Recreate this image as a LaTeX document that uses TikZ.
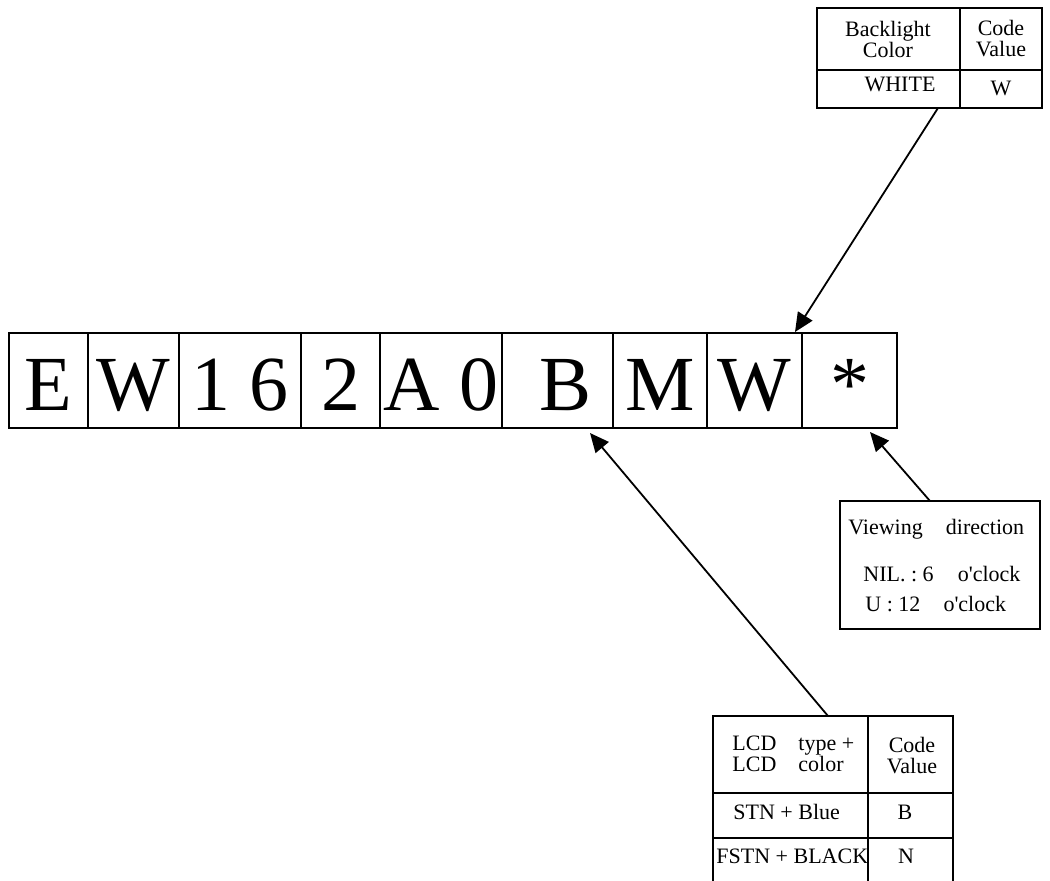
\documentclass[tikz,border=0pt]{standalone}
\usepackage{fontspec}
\setmainfont{Liberation Serif}
\usetikzlibrary{arrows.meta}

\begin{document}
\begin{tikzpicture}[x=0.5pt,y=-0.5pt,
	big/.style={inner sep=0pt,anchor=base,font=\fontsize{39}{39}\selectfont},
	txt/.style={inner sep=0pt,font=\fontsize{11}{10.5}\selectfont},
	frame/.style={line width=1pt},
	pointer/.style={line width=0.9pt,-{Triangle[length=9.5pt,width=8.5pt]}}]
	\useasboundingbox (0,0) rectangle (1050,880);
	\clip (0,0) rectangle (1050,880);
	
	%PART NUMBER
	\draw[frame] (9,333) rectangle (897,428);
	\foreach \x in {88,179,301,380,502,613,707,802}
	\draw[frame] (\x,333)--(\x,428);	%dividers
	%
	\foreach \t/\x/\n in {E/48.5/pnE,W/133.5/pnW,1 6/240/pnSix,2/340.5/pnTwo,A 0/441/pnAO,B/566/pnB,M/660/pnM,W/754.5/pnBl,*/849.5/pnStar}
	\node[big] (\n) at (\x,410) {\t};
	
	%BACKLIGHT TABLE
	\draw[frame] (817,8) rectangle (1042,108);
	\draw[frame] (960,8)--(960,108);	%column
	\draw[frame] (817,70)--(1042,70);	%row
	\node[txt,align=center,anchor=north] (blhead) at (888,21) {Backlight\\Color};
	\node[txt,align=center,anchor=north] (blcode) at (1001,20) {Code\\Value};
	\node[txt,anchor=base] (blwhite) at (900,91) {WHITE};
	\node[txt,anchor=base] (blw) at (1001,95) {W};
	
	%VIEWING DIRECTION BOX
	\draw[frame] (840,501) rectangle (1040,629);
	\node[txt,anchor=base west] (vdhead) at (848,534) {Viewing\hspace{1.05em}direction};
	\node[txt,anchor=base west] (vdsix) at (863,581) {NIL.\ :\ 6\hspace{1.1em}o\textquotesingle clock};
	\node[txt,anchor=base west] (vdtwelve) at (865,611) {U\ :\ 12\hspace{1.05em}o\textquotesingle clock};
	
	%LCD TABLE
	\draw[frame] (713,716) rectangle (953,884);
	\draw[frame] (868,716)--(868,884);	%column
	\foreach \y in {793,838}
	\draw[frame] (713,\y)--(953,\y);	%rows
	\node[txt,align=left,anchor=north west] (lcdhead) at (732,736) {LCD\quad type +\\LCD\quad color};
	\node[txt,align=center,anchor=north] (lcdcode) at (912,737) {Code\\Value};
	\node[txt,anchor=base west] (lcdstn) at (733,819) {STN + Blue};
	\node[txt,anchor=base] (lcdb) at (905,819) {B};
	\node[txt,anchor=base west] (lcdfstn) at (716,863) {FSTN + BLACK};
	\node[txt,anchor=base] (lcdn) at (906,863) {N};
	
	%POINTERS
	\coordinate (blfoot) at (938,108);	\coordinate (bltip) at (795,332);
	\coordinate (vdfoot) at (930,501);	\coordinate (vdtip) at (870,432);
	\coordinate (lcdfoot) at (828,716);	\coordinate (lcdtip) at (590,433);
	\draw[pointer] (blfoot)--(bltip);
	\draw[pointer] (vdfoot)--(vdtip);
	\draw[pointer] (lcdfoot)--(lcdtip);
\end{tikzpicture}
\end{document}
